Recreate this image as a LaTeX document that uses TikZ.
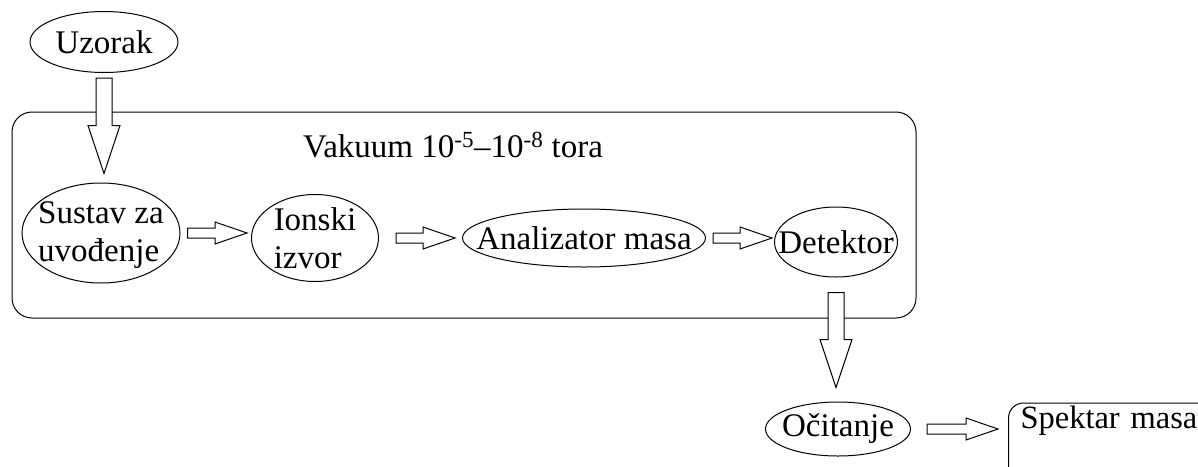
\documentclass[tikz,border=0pt]{standalone}
\usepackage{fontspec}
\setmainfont{Liberation Serif}
\usetikzlibrary{shapes.geometric,calc}

\begin{document}
\begin{tikzpicture}[
            x = 1pt, y = -1pt,
            line width = 1pt,
            font = \fontsize{33}{38}\selectfont,
            oval/.style 2 args = {ellipse, draw, inner sep = 0pt, minimum width = #1, minimum height = #2},
            hollow/.style = {draw, fill = white},
            harrow/.style = {to path = {let \p1 = (\tikztostart), \p2 = (\tikztotarget) in
                (\x1,\y1+5) -- (\x2-32,\y1+5) -- (\x2-32,\y1+11) -- (\x2,\y1)
                -- (\x2-32,\y1-11) -- (\x2-32,\y1-5) -- (\x1,\y1-5) -- cycle}},
            varrow/.style = {to path = {let \p1 = (\tikztostart), \p2 = (\tikztotarget) in
                (\x1-8,\y1) -- (\x1-8,\y2+48) -- (\x1-16,\y2+48) -- (\x1,\y2)
                -- (\x1+16,\y2+48) -- (\x1+8,\y2+48) -- (\x1+8,\y1) -- cycle}}
        ]
        \useasboundingbox (0,0) rectangle (1198,466);
        \draw[rounded corners = 20] (12,112) rectangle (916,318);
        \node[anchor = base] (vakuum) at (453,157) {Vakuum 10\textsuperscript{-5}–10\textsuperscript{-8} tora};
        \node[oval = {148}{61}, label = {center:Uzorak}] (uzorak) at (104,42) {};
        \node[oval = {158}{100}, label = {[align = left, yshift = -2pt]center:Sustav za\\uvođenje}] (sustav) at (101,233) {};
        \node[oval = {127}{87}, label = {[align = left]center:Ionski\\izvor}] (ionski) at (315,238) {};
        \node[oval = {243}{58}, label = {center:Analizator masa}] (analizator) at (584,238) {};
        \node[oval = {123}{70}, label = {center:Detektor}] (detektor) at (836,242) {};
        \node[oval = {145}{54}, label = {center:Očitanje}] (ocitanje) at (838,429) {};
        \node[draw, rounded corners = 15, anchor = base west, text height = 20pt, text depth = 60pt,
            inner xsep = 12pt, inner ysep = 5pt, text width = 190pt, align = left,
            font = \fontsize{32.5}{38}\selectfont] (spektar) at (1008,428) {Spektar masa};
        \path[hollow] ([yshift = -5pt]uzorak.south) to[varrow] ([yshift = 9pt]sustav.north);
        \path[hollow] ([xshift = 7pt]sustav.east) to[harrow] ([xshift = -4pt]ionski.west);
        \path[hollow] ([xshift = 17pt]ionski.east) to[harrow] ([xshift = -7pt]analizator.west);
        \path[hollow] ([xshift = 7pt]analizator.east) to[harrow] ([xshift = -2pt]detektor.west);
        \path[hollow] ([yshift = -15pt]detektor.south) to[varrow] ([yshift = 14pt]ocitanje.north);
        \path[hollow] ([xshift = 16pt]ocitanje.east) to[harrow] ([xshift = -10pt]spektar.west);
    \end{tikzpicture}
\end{document}
